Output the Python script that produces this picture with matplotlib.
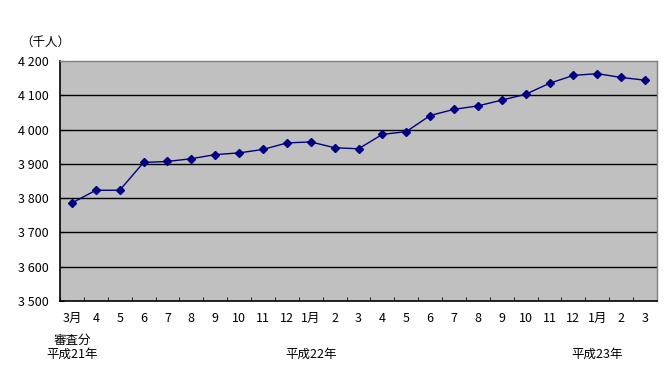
import matplotlib
matplotlib.use("Agg")
import matplotlib.pyplot as plt
import numpy as np

plt.rcParams['font.family'] = ['Noto Sans CJK JP', 'DejaVu Sans']

months = ["3月", "4", "5", "6", "7", "8", "9", "10", "11", "12", "1月", "2", "3",
          "4", "5", "6", "7", "8", "9", "10", "11", "12", "1月", "2", "3"]
values = [3786, 3823, 3823, 3904, 3907, 3915, 3927, 3932, 3942, 3961, 3964, 3947, 3944,
          3986, 3994, 4041, 4059, 4069, 4086, 4103, 4135, 4158, 4163, 4152, 4144]
yticks = [3500, 3600, 3700, 3800, 3900, 4000, 4100, 4200]
ytick_labels = ["3 500", "3 600", "3 700", "3 800", "3 900", "4 000", "4 100", "4 200"]
year_labels = [(0, "審査分\n平成21年"), (10, "平成22年"), (22, "平成23年")]
unit_label = "（千人）"

W, H = 672, 373
fig = plt.figure(figsize=(W / 100, H / 100), dpi=100)
L, R, T, B = 60, 657, 61, 301
ax = fig.add_axes([L / W, 1 - B / H, (R - L) / W, (B - T) / H])
ax.set_facecolor("#C0C0C0")

x = np.arange(len(values))
ax.set_xlim(-0.5, len(values) - 0.5)
ax.set_ylim(3500, 4200)

for yv in yticks[1:-1]:
    ax.axhline(yv, color="black", lw=1.0, zorder=1)

ax.plot(x, values, color="#000080", lw=1.0, marker="D", markersize=4.5,
        markerfacecolor="#000080", markeredgecolor="#000080", zorder=3)

ax.set_yticks(yticks)
ax.set_yticklabels(ytick_labels, fontsize=9)
ax.tick_params(axis="y", length=3, direction="in", pad=8)

ax.set_xticks(x)
ax.set_xticklabels(months, fontsize=9)
ax.tick_params(axis="x", which="major", length=0, pad=8)
ax.set_xticks(np.arange(len(values) + 1) - 0.5, minor=True)
ax.tick_params(axis="x", which="minor", length=3, direction="in")

for s in ["left", "bottom"]:
    ax.spines[s].set_color("black")
    ax.spines[s].set_linewidth(1.2)
for s in ["top", "right"]:
    ax.spines[s].set_color("#808080")
    ax.spines[s].set_linewidth(1.0)

trans = ax.get_xaxis_transform()
for idx, txt in year_labels:
    if "\n" in txt:
        a, b = txt.split("\n")
        ax.text(idx, -0.135, a, transform=trans, ha="center", va="top", fontsize=9)
        ax.text(idx, -0.195, b, transform=trans, ha="center", va="top", fontsize=9)
    else:
        ax.text(idx, -0.195, txt, transform=trans, ha="center", va="top", fontsize=9)

fig.text(20 / W, 1 - 42 / H, unit_label, ha="left", va="center", fontsize=9)

fig.savefig("out.png", dpi=100)
